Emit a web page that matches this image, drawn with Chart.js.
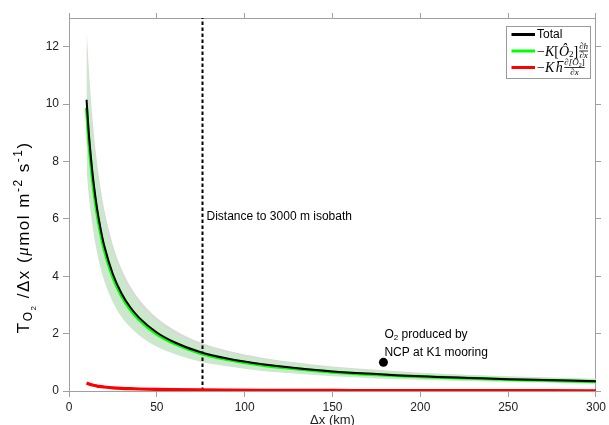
<!DOCTYPE html>
<html>
<head>
<meta charset="utf-8">
<script src="https://cdn.jsdelivr.net/npm/chart.js@4.4.1/dist/chart.umd.min.js"></script>
<style>
  html, body { margin: 0; padding: 0; background: #fff; }
</style>
</head>
<body>
<canvas id="fluxChart" width="609" height="425"></canvas>
<script>
// distance offshore (km) and the O2 transport terms per unit distance
const distKm     = [10, 11, 12, 14, 16, 18, 20, 25, 30, 35, 40, 50, 60, 75, 90, 110, 130, 150, 175, 200, 250, 300];
const totalFlux  = [10.15, 9.2, 8.45, 7.25, 6.35, 5.65, 5.08, 4.07, 3.39, 2.91, 2.55, 2.04, 1.70, 1.35, 1.13, 0.93, 0.79, 0.68, 0.59, 0.51, 0.41, 0.34];
const slopeFlux  = [9.87, 8.95, 8.22, 7.05, 6.18, 5.5, 4.94, 3.96, 3.30, 2.83, 2.48, 1.98, 1.65, 1.31, 1.10, 0.90, 0.77, 0.66, 0.57, 0.50, 0.40, 0.33];
const gradFlux   = [0.28, 0.25, 0.23, 0.20, 0.17, 0.155, 0.14, 0.11, 0.092, 0.08, 0.07, 0.056, 0.047, 0.037, 0.031, 0.025, 0.021, 0.019, 0.016, 0.014, 0.011, 0.009];

// uncertainty envelopes
const totalHigh  = [12.7, 11.5, 10.56, 9.06, 7.94, 7.06, 6.35, 5.09, 4.24, 3.64, 3.19, 2.55, 2.13, 1.69, 1.41, 1.16, 0.99, 0.85, 0.74, 0.64, 0.51, 0.43];
const totalLow   = [8.63, 7.82, 7.18, 6.16, 5.4, 4.8, 4.32, 3.46, 2.88, 2.47, 2.17, 1.73, 1.45, 1.15, 0.96, 0.79, 0.67, 0.58, 0.50, 0.43, 0.35, 0.29];
const slopeHigh  = [12.2, 11.1, 10.2, 8.75, 7.66, 6.8, 6.1, 4.88, 4.07, 3.49, 3.06, 2.44, 2.03, 1.61, 1.35, 1.11, 0.95, 0.82, 0.71, 0.62, 0.50, 0.41];
const slopeLow   = [7.7, 6.98, 6.41, 5.5, 4.82, 4.29, 3.85, 3.09, 2.57, 2.21, 1.93, 1.54, 1.29, 1.02, 0.86, 0.70, 0.60, 0.51, 0.44, 0.39, 0.31, 0.26];

const isobathKm = 76;
const isobathSpan = [0, 13];
const ncpPoint = { x: 179, y: 1.0 };

const xRange = [0, 300];
const yRange = [0, 13];
const xTicks = [0, 50, 100, 150, 200, 250, 300];
const yTicks = [0, 2, 4, 6, 8, 10, 12];

const sans = '"Liberation Sans", Arial, Helvetica, sans-serif';
const serif = '"Liberation Serif", "DejaVu Serif", serif';
const axisGray = '#a0a0a0';

function pts(ys) {
  return distKm.map((x, i) => ({ x: x, y: ys[i] }));
}

function lineSet(label, ys, color, width) {
  return {
    label: label,
    data: pts(ys),
    borderColor: color,
    borderWidth: width,
    pointRadius: 0,
    cubicInterpolationMode: 'monotone',
    fill: false
  };
}

function bandSet(ys, fillColor, fillTo) {
  return {
    data: pts(ys),
    borderWidth: 0,
    borderColor: 'rgba(0,0,0,0)',
    backgroundColor: fillColor,
    pointRadius: 0,
    cubicInterpolationMode: 'monotone',
    fill: fillTo
  };
}

// draws a list of text runs left to right, returns the total advance
function drawRuns(ctx, runs, x, y, spacing) {
  let cx = x;
  runs.forEach(r => {
    ctx.font = r.font;
    for (const ch of r.t) {
      ctx.fillText(ch, cx, y + (r.dy || 0));
      cx += ctx.measureText(ch).width + spacing;
    }
  });
  return cx - x;
}

function measureRuns(ctx, runs) {
  let w = 0, n = 0;
  runs.forEach(r => {
    ctx.font = r.font;
    for (const ch of r.t) { w += ctx.measureText(ch).width; n++; }
  });
  return { w, n };
}

// small stacked fraction, centred on y
function drawFrac(ctx, numRuns, denRuns, x, y) {
  const nw = measureRuns(ctx, numRuns).w;
  const dw = measureRuns(ctx, denRuns).w;
  const w = Math.max(nw, dw);
  drawRuns(ctx, numRuns, x + (w - nw) / 2, y - 4.5, 0);
  drawRuns(ctx, denRuns, x + (w - dw) / 2, y + 5, 0);
  ctx.fillRect(x, y - 0.4, w, 0.8);
  return w;
}

const overlay = {
  id: 'overlay',
  afterDraw(chart) {
    const ctx = chart.ctx;
    const xs = chart.scales.x, ys = chart.scales.y;
    ctx.save();
    ctx.fillStyle = '#000';
    ctx.textBaseline = 'middle';
    ctx.textAlign = 'left';

    // annotations
    ctx.font = '12px ' + sans;
    ctx.fillText('Distance to 3000 m isobath', xs.getPixelForValue(isobathKm) + 4, ys.getPixelForValue(6.07));
    const nx = xs.getPixelForValue(ncpPoint.x) + 1;
    const w1 = drawRuns(ctx, [{ t: 'O', font: '12px ' + sans }, { t: '2', font: '8px ' + sans, dy: 4 }], nx, ys.getPixelForValue(1.98), 0);
    ctx.font = '12px ' + sans;
    ctx.fillText(' produced by', nx + w1, ys.getPixelForValue(1.98));
    ctx.fillText('NCP at K1 mooring', nx, ys.getPixelForValue(1.34));

    // y axis title, rotated
    const yRuns = [
      { t: 'T', font: '17px ' + sans },
      { t: 'O', font: '12px ' + sans, dy: 5 },
      { t: '2', font: '8px ' + sans, dy: 10 },
      { t: ' /\u0394x (', font: '17px ' + sans },
      { t: '\u03bc', font: 'italic 17px ' + serif },
      { t: 'mol m', font: '17px ' + sans },
      { t: '-2', font: '12px ' + sans, dy: -5.5 },
      { t: ' s', font: '17px ' + sans },
      { t: '-1', font: '12px ' + sans, dy: -5.5 },
      { t: ')', font: '17px ' + sans }
    ];
    const m = measureRuns(ctx, yRuns);
    const gap = Math.min(1.5, Math.max(0, (211 - m.w) / (m.n - 1)));
    const span = m.w + gap * (m.n - 1);
    ctx.translate(24, 238);
    ctx.rotate(-Math.PI / 2);
    drawRuns(ctx, yRuns, -span / 2, 0, gap);
    ctx.setTransform(1, 0, 0, 1, 0, 0);

    // legend box
    ctx.fillStyle = '#fff';
    ctx.fillRect(506, 26, 84, 52);
    ctx.strokeStyle = '#9a9a9a';
    ctx.lineWidth = 1;
    ctx.strokeRect(506.5, 26.5, 84, 52);
    const rows = [
      { color: '#000000', y: 34.5 },
      { color: '#00ff00', y: 51 },
      { color: '#ff0000', y: 67.5 }
    ];
    rows.forEach(r => {
      ctx.strokeStyle = r.color;
      ctx.lineWidth = 3;
      ctx.beginPath();
      ctx.moveTo(511.5, r.y);
      ctx.lineTo(535, r.y);
      ctx.stroke();
    });
    ctx.fillStyle = '#000';
    ctx.font = '12px ' + sans;
    ctx.fillText('Total', 537, rows[0].y);

    const rm = '14px ' + serif, it = 'italic 14px ' + serif;
    const sm = '9px ' + serif, sit = 'italic 9px ' + serif;
    let lx = 537;
    lx += drawRuns(ctx, [
      { t: '\u2212', font: rm }, { t: 'K', font: it }, { t: '[', font: rm },
      { t: '\u00d4', font: it }, { t: '2', font: sm, dy: 3 }, { t: ']', font: rm }
    ], lx, rows[1].y + 1, 0);
    drawFrac(ctx, [{ t: '\u2202h', font: sit }], [{ t: '\u2202x', font: sit }], lx + 1, rows[1].y);

    lx = 537;
    lx += drawRuns(ctx, [
      { t: '\u2212', font: rm }, { t: 'K', font: it }
    ], lx, rows[2].y + 1, 0);
    lx += 1.5;
    ctx.font = it;
    const hw = ctx.measureText('h').width;
    ctx.fillText('h', lx, rows[2].y + 1);
    ctx.fillRect(lx + 1.5, rows[2].y - 6.5, hw - 0.5, 0.9);
    lx += hw;
    drawFrac(ctx, [
      { t: '\u2202[', font: sit }, { t: '\u00d4', font: sit }, { t: '2', font: '6px ' + serif, dy: 2 }, { t: ']', font: sm }
    ], [{ t: '\u2202x', font: sit }], lx + 1.5, rows[2].y);

    ctx.restore();
  }
};

function axisGrid(len) {
  return { display: true, drawOnChartArea: false, drawTicks: true, tickLength: len, color: axisGray };
}

function fixedTicks(list) {
  return function (s) { s.ticks = list.map(v => ({ value: v })); };
}

new Chart(document.getElementById('fluxChart').getContext('2d'), {
  type: 'line',
  data: {
    datasets: [
      lineSet('Total', totalFlux, '#000000', 2),
      lineSet('slope term', slopeFlux, '#00ff00', 3.2),
      lineSet('gradient term', gradFlux, '#ff0000', 3.2),
      {
        data: isobathSpan.map(v => ({ x: isobathKm, y: v })),
        borderColor: '#000',
        borderWidth: 2,
        borderDash: [3.5, 2.5],
        pointRadius: 0,
        fill: false
      },
      {
        data: [ncpPoint],
        showLine: false,
        pointRadius: 4.5,
        pointBackgroundColor: '#000',
        pointBorderWidth: 0
      },
      bandSet(slopeHigh, 'rgb(204,232,204)', '+1'),
      bandSet(slopeLow, 'rgba(0,0,0,0)', false),
      bandSet(totalHigh, 'rgb(216,218,216)', '+1'),
      bandSet(totalLow, 'rgba(0,0,0,0)', false)
    ]
  },
  options: {
    responsive: false,
    animation: false,
    devicePixelRatio: 1,
    layout: { padding: 0, autoPadding: false },
    plugins: {
      legend: { display: false },
      tooltip: { enabled: false }
    },
    scales: {
      x: {
        type: 'linear',
        position: 'bottom',
        min: xRange[0],
        max: xRange[1],
        grid: axisGrid(6),
        border: { display: true, color: axisGray },
        ticks: { padding: 3, color: '#222', font: { family: sans, size: 12 } },
        afterBuildTicks: fixedTicks(xTicks),
        title: {
          display: true,
          text: '\u0394x (km)',
          color: '#222',
          padding: { top: 0, bottom: 0 },
          font: { family: sans, size: 13, lineHeight: 0.7 }
        },
        afterFit(s) { s.height = 34; }
      },
      xTop: {
        type: 'linear',
        position: 'top',
        min: xRange[0],
        max: xRange[1],
        grid: axisGrid(5),
        border: { display: true, color: axisGray },
        ticks: { display: false },
        afterBuildTicks: fixedTicks(xTicks),
        afterFit(s) { s.height = 18; }
      },
      y: {
        type: 'linear',
        position: 'left',
        min: yRange[0],
        max: yRange[1],
        grid: axisGrid(6),
        border: { display: true, color: axisGray },
        ticks: { padding: 4, color: '#222', font: { family: sans, size: 12 } },
        afterBuildTicks: fixedTicks(yTicks),
        afterFit(s) { s.width = 69; }
      },
      yRight: {
        type: 'linear',
        position: 'right',
        min: yRange[0],
        max: yRange[1],
        grid: axisGrid(5),
        border: { display: true, color: axisGray },
        ticks: { display: false },
        afterBuildTicks: fixedTicks(yTicks),
        afterFit(s) { s.width = 10; }
      }
    }
  },
  plugins: [overlay]
});
</script>
</body>
</html>
